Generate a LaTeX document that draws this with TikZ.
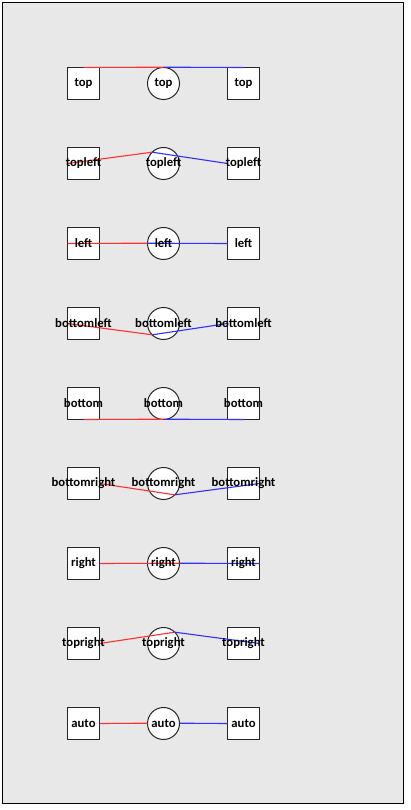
\documentclass[tikz,border=0pt]{standalone}
\usepackage{fontspec}
\setmainfont{Carlito}
\definecolor{bggray}{HTML}{E8E8E8}
\definecolor{edgered}{HTML}{FF3030}
\definecolor{edgeblue}{HTML}{3030FF}
\tikzset{
  boxnode/.style={draw=black!85, fill=white, line width=1pt, minimum width=32pt, minimum height=32pt, inner sep=0pt, outer sep=0pt},
  circnode/.style={circle, draw=black!85, fill=white, line width=1pt, minimum size=32pt, inner sep=0pt, outer sep=0pt},
  lbl/.style={font=\bfseries\fontsize{12.7}{13}\selectfont, text=black, inner sep=0pt},
  redline/.style={draw=edgered, line width=1.1pt},
  blueline/.style={draw=edgeblue, line width=1.1pt},
  nudge/.style={yshift=0.3pt}
}
\begin{document}
\begin{tikzpicture}[x=1pt,y=-1pt]
\useasboundingbox (0,0) rectangle (411,810);
\draw[fill=bggray, line width=1pt] (2.5,2.5) rectangle (403.5,803.5);
% shapes
\foreach \i in {1,...,9}{
  \node[boxnode] (L\i) at (83.5,{3.5+80*\i}) {};
  \node[circnode] (C\i) at (163.5,{3.5+80*\i}) {};
  \node[boxnode] (R\i) at (243.5,{3.5+80*\i}) {};
}
% connectors
\draw[redline] (L1.north) -- ([nudge]C1.north); \draw[blueline] ([nudge]C1.north) -- (R1.north);
\draw[redline] (L2.west) -- (C2.135); \draw[blueline] (C2.135) -- (R2.west);
\draw[redline] (L3.west) -- ([nudge]C3.west); \draw[blueline] ([nudge]C3.west) -- (R3.west);
\draw[redline] (L4.west) -- (C4.225); \draw[blueline] (C4.225) -- (R4.west);
\draw[redline] (L5.south) -- ([nudge]C5.south); \draw[blueline] ([nudge]C5.south) -- (R5.south);
\draw[redline] (L6.east) -- (C6.-45); \draw[blueline] (C6.-45) -- (R6.east);
\draw[redline] (L7.east) -- ([nudge]C7.east); \draw[blueline] ([nudge]C7.east) -- (R7.east);
\draw[redline] (L8.east) -- (C8.45); \draw[blueline] (C8.45) -- (R8.east);
\draw[redline] (L9.east) -- ([nudge]C9.west); \draw[blueline] ([nudge]C9.east) -- (R9.west);
% labels
\foreach \i/\t in {1/top,2/topleft,3/left,4/bottomleft,5/bottom,6/bottomright,7/right,8/topright,9/auto}{
  \node[lbl] (tL\i) at (L\i.center) {\t};
  \node[lbl] (tC\i) at (C\i.center) {\t};
  \node[lbl] (tR\i) at (R\i.center) {\t};
}
\end{tikzpicture}
\end{document}
